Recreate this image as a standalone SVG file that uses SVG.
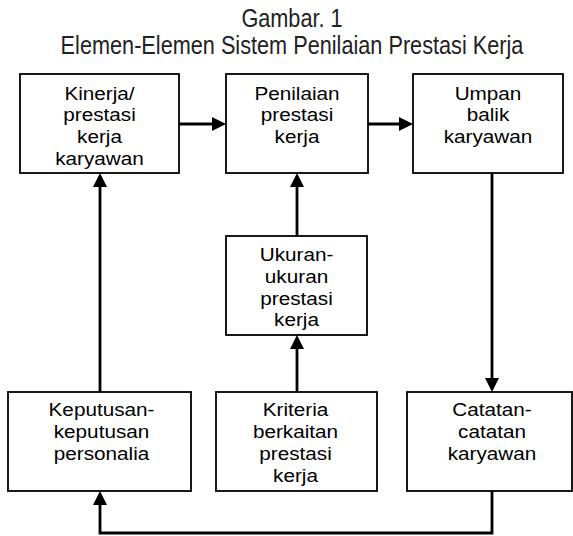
<svg xmlns="http://www.w3.org/2000/svg" width="573" height="536" viewBox="0 0 573 536">
<defs>
<style>
.box{fill:#fff;stroke:#000;stroke-width:1.8}
.t{font-family:"Liberation Sans",Arial,sans-serif;font-size:18.5px;fill:#000;text-anchor:middle}
.title{font-family:"Liberation Sans",Arial,sans-serif;font-size:25px;fill:#222;text-anchor:middle}
.c{fill:none;stroke:#000;stroke-width:2.8}
</style>
<marker id="ah" markerUnits="userSpaceOnUse" markerWidth="15" markerHeight="15" refX="2" refY="7" orient="auto">
<path d="M0,0 L14,7 L0,14 z" fill="#000"/>
</marker>
</defs>
<rect width="573" height="536" fill="#fff"/>
<g id="title" transform="translate(292 0) scale(0.868 1)">
<text class="title" x="0" y="27">Gambar. 1</text>
<text class="title" x="0" y="54">Elemen-Elemen Sistem Penilaian Prestasi Kerja</text>
</g>
<g id="connectors">
<line class="c" x1="179" y1="124" x2="214" y2="124" marker-end="url(#ah)"/>
<line class="c" x1="368" y1="124" x2="401" y2="124" marker-end="url(#ah)"/>
<line class="c" x1="297" y1="236" x2="297" y2="185" marker-end="url(#ah)"/>
<line class="c" x1="297" y1="392" x2="297" y2="347" marker-end="url(#ah)"/>
<line class="c" x1="492" y1="173" x2="492" y2="380" marker-end="url(#ah)"/>
<line class="c" x1="100" y1="392" x2="100" y2="185" marker-end="url(#ah)"/>
<polyline class="c" points="492,491 492,533 100,533 100,503" marker-end="url(#ah)"/>
</g>
<g id="kinerja">
<rect class="box" x="20" y="74" width="159" height="99"/>
<g transform="translate(99.5 0) scale(1.12 1)">
<text class="t" x="0" y="100">Kinerja/</text>
<text class="t" x="0" y="121.5">prestasi</text>
<text class="t" x="0" y="143">kerja</text>
<text class="t" x="0" y="165">karyawan</text>
</g>
</g>
<g id="penilaian">
<rect class="box" x="226" y="74" width="142" height="99"/>
<g transform="translate(297 0) scale(1.12 1)">
<text class="t" x="0" y="100">Penilaian</text>
<text class="t" x="0" y="121.5">prestasi</text>
<text class="t" x="0" y="143">kerja</text>
</g>
</g>
<g id="umpan">
<rect class="box" x="413" y="74" width="150" height="99"/>
<g transform="translate(488 0) scale(1.12 1)">
<text class="t" x="0" y="100">Umpan</text>
<text class="t" x="0" y="121.5">balik</text>
<text class="t" x="0" y="143">karyawan</text>
</g>
</g>
<g id="ukuran">
<rect class="box" x="226" y="236" width="141" height="99"/>
<g transform="translate(296.5 0) scale(1.12 1)">
<text class="t" x="0" y="261">Ukuran-</text>
<text class="t" x="0" y="283">ukuran</text>
<text class="t" x="0" y="305">prestasi</text>
<text class="t" x="0" y="326">kerja</text>
</g>
</g>
<g id="keputusan">
<rect class="box" x="8" y="392" width="183" height="99"/>
<g transform="translate(101.5 0) scale(1.12 1)">
<text class="t" x="0" y="416">Keputusan-</text>
<text class="t" x="0" y="438">keputusan</text>
<text class="t" x="0" y="460">personalia</text>
</g>
</g>
<g id="kriteria">
<rect class="box" x="216" y="392" width="161" height="99"/>
<g transform="translate(295.5 0) scale(1.12 1)">
<text class="t" x="0" y="416">Kriteria</text>
<text class="t" x="0" y="438">berkaitan</text>
<text class="t" x="0" y="460">prestasi</text>
<text class="t" x="0" y="482">kerja</text>
</g>
</g>
<g id="catatan">
<rect class="box" x="407" y="392" width="165" height="99"/>
<g transform="translate(492 0) scale(1.12 1)">
<text class="t" x="0" y="416">Catatan-</text>
<text class="t" x="0" y="438">catatan</text>
<text class="t" x="0" y="460">karyawan</text>
</g>
</g>
</svg>
